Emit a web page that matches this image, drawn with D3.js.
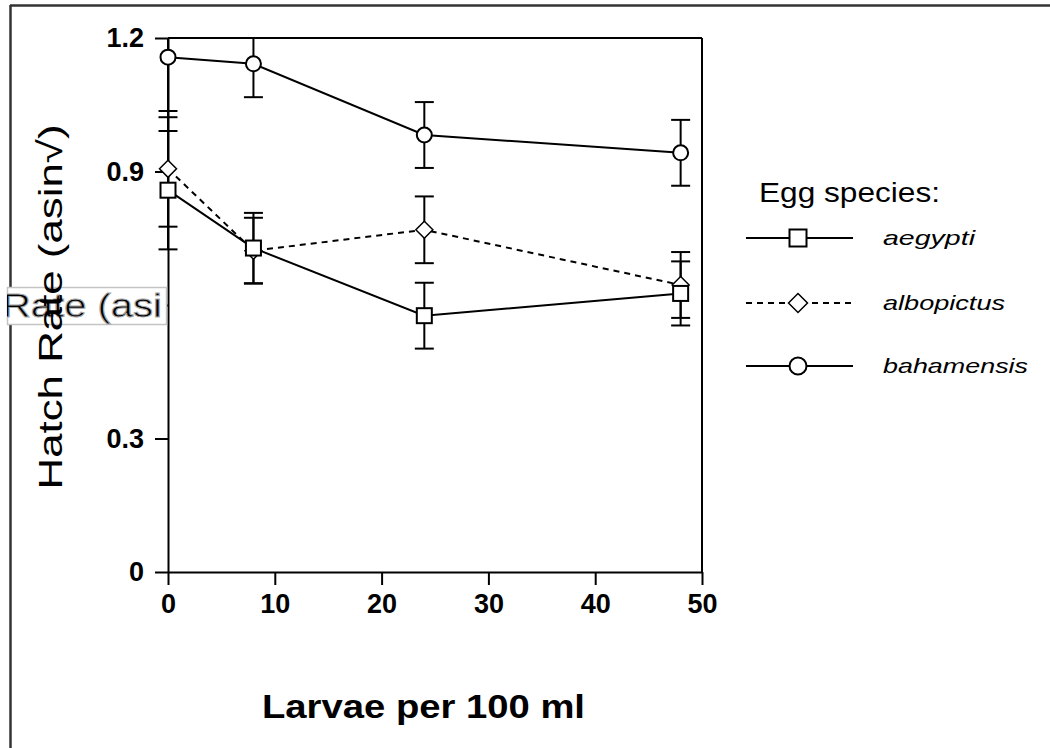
<!DOCTYPE html>
<html>
<head>
<meta charset="utf-8">
<script src="https://cdn.jsdelivr.net/npm/d3@7"></script>
<style>
  html, body { margin: 0; padding: 0; background: #fff; }
  svg { display: block; }
  text { font-family: "Liberation Sans", Arial, sans-serif; fill: #000; }
</style>
</head>
<body>
<svg id="chart" width="1050" height="748"></svg>
<script>
// ---- data ----
const larvae = [0, 8, 24, 48];
const speciesNames = ["aegypti", "albopictus", "bahamensis"];
const aegyptiMean = [0.858, 0.728, 0.576, 0.626];
const aegyptiErr  = [0.133, 0.079, 0.074, 0.072];
const albopictusMean = [0.906, 0.722, 0.769, 0.645];
const albopictusErr  = [0.130, 0.074, 0.075, 0.074];
const bahamensisMean = [1.157, 1.142, 0.982, 0.942];
const bahamensisErr  = [0.135, 0.075, 0.074, 0.074];
const xTicks = [0, 10, 20, 30, 40, 50];
const yTicks = [0, 0.3, 0.6, 0.9, 1.2];
const yTickLabels = ["0", "0.3", "0.6", "0.9", "1.2"];

const series = [
  {name: "aegypti", mean: aegyptiMean, err: aegyptiErr, shape: "square", dash: null},
  {name: "albopictus", mean: albopictusMean, err: albopictusErr, shape: "diamond", dash: "6,5"},
  {name: "bahamensis", mean: bahamensisMean, err: bahamensisErr, shape: "circle", dash: null}
];

const svg = d3.select("#chart");
const x = d3.scaleLinear().domain([0, 50]).range([168, 702]);
const y = d3.scaleLinear().domain([0, 1.2]).range([572, 38]);

// outer frame (partial)
svg.append("line").attr("x1", 10).attr("x2", 1050).attr("y1", 5.5).attr("y2", 5.5)
  .attr("stroke", "#333").attr("stroke-width", 2.5);
svg.append("line").attr("x1", 10.5).attr("x2", 10.5).attr("y1", 5).attr("y2", 748)
  .attr("stroke", "#333").attr("stroke-width", 2.5);

// clip for error bars
svg.append("defs").append("clipPath").attr("id", "plotclip")
  .append("rect").attr("x", 0).attr("y", y(1.2)).attr("width", 1050).attr("height", y(0) - y(1.2));

// axes
const yAxis = d3.axisLeft(y).tickValues(yTicks).tickSize(13).tickSizeOuter(0).tickPadding(11)
  .tickFormat((d, i) => yTickLabels[i]);
const xAxis = d3.axisBottom(x).tickValues(xTicks).tickSize(13).tickSizeOuter(0).tickPadding(9)
  .tickFormat(d3.format("d"));

const gy = svg.append("g").attr("transform", `translate(${x(0)},0)`).call(yAxis);
const gx = svg.append("g").attr("transform", `translate(0,${y(0)})`).call(xAxis);
[gx, gy].forEach(g => {
  g.selectAll("path, line").attr("stroke", "#000").attr("stroke-width", 2);
  g.selectAll("text").style("font-family", "'Liberation Sans', Arial, sans-serif")
    .style("font-size", "27px").style("font-weight", "bold").attr("fill", "#000");
});
// top & right frame of plot
svg.append("line").attr("x1", x(0)).attr("x2", x(50)).attr("y1", y(1.2)).attr("y2", y(1.2))
  .attr("stroke", "#000").attr("stroke-width", 2);
svg.append("line").attr("x1", x(50)).attr("x2", x(50)).attr("y1", y(1.2)).attr("y2", y(0))
  .attr("stroke", "#000").attr("stroke-width", 2);

// error bars
const capHalf = 9.5;
series.forEach(s => {
  const g = svg.append("g").attr("clip-path", "url(#plotclip)");
  larvae.forEach((lv, i) => {
    const cx = x(lv), hi = y(s.mean[i] + s.err[i]), lo = y(s.mean[i] - s.err[i]);
    g.append("line").attr("x1", cx).attr("x2", cx).attr("y1", hi).attr("y2", lo)
      .attr("stroke", "#000").attr("stroke-width", 2);
    [hi, lo].forEach(cy => g.append("line").attr("x1", cx - capHalf).attr("x2", cx + capHalf)
      .attr("y1", cy).attr("y2", cy).attr("stroke", "#000").attr("stroke-width", 2));
  });
});

// lines
const lineGen = d3.line().x(d => x(d[0])).y(d => y(d[1]));
series.forEach(s => {
  svg.append("path").datum(larvae.map((lv, i) => [lv, s.mean[i]]))
    .attr("d", lineGen).attr("fill", "none").attr("stroke", "#000").attr("stroke-width", 2)
    .attr("stroke-dasharray", s.dash);
});

// markers
function drawMarker(g, shape, cx, cy, size) {
  if (shape === "square") {
    g.append("rect").attr("x", cx - size / 2).attr("y", cy - size / 2)
      .attr("width", size).attr("height", size)
      .attr("fill", "#fff").attr("stroke", "#000").attr("stroke-width", 2);
  } else if (shape === "circle") {
    g.append("circle").attr("cx", cx).attr("cy", cy).attr("r", size / 2)
      .attr("fill", "#fff").attr("stroke", "#000").attr("stroke-width", 2);
  } else {
    const h = size / 2 + 1;
    g.append("path").attr("d", `M${cx},${cy - h}L${cx + h},${cy}L${cx},${cy + h}L${cx - h},${cy}Z`)
      .attr("fill", "#fff").attr("stroke", "#000").attr("stroke-width", 1.5);
  }
}
const mg = svg.append("g");
[series[1], series[0], series[2]].forEach(s => {
  larvae.forEach((lv, i) => drawMarker(mg, s.shape, x(lv), y(s.mean[i]), 15));
});

// odd overlay box "Rate (asi"
svg.append("defs").append("clipPath").attr("id", "boxclip")
  .append("rect").attr("x", 7).attr("y", 287).attr("width", 160).attr("height", 38);
svg.append("rect").attr("x", 7.5).attr("y", 287.5).attr("width", 159).attr("height", 37)
  .attr("fill", "#fff").attr("stroke", "#c4c4c4").attr("stroke-width", 1.5);
svg.append("text").attr("clip-path", "url(#boxclip)")
  .attr("x", 2).attr("y", 317).attr("textLength", 160).attr("lengthAdjust", "spacingAndGlyphs")
  .style("font-size", "33px").attr("fill", "#f4f4f4").attr("stroke", "#aaa").attr("stroke-width", 1)
  .text("Rate (asi");

// y title
svg.append("text").attr("transform", "translate(62,307) rotate(-90)")
  .attr("text-anchor", "middle").attr("textLength", 365).attr("lengthAdjust", "spacingAndGlyphs")
  .style("font-size", "34px").text("Hatch Rate (asin\u221A)");

// x title
svg.append("text").attr("x", 262).attr("y", 718)
  .attr("textLength", 323).attr("lengthAdjust", "spacingAndGlyphs")
  .style("font-size", "34px").style("font-weight", "bold").text("Larvae per 100 ml");

// legend
svg.append("text").attr("x", 759).attr("y", 202).attr("textLength", 181)
  .attr("lengthAdjust", "spacingAndGlyphs").style("font-size", "27px").text("Egg species:");
const legRows = [238, 303, 366];
const legLens = [92, 122, 145];
series.forEach((s, i) => {
  const ly = legRows[i];
  svg.append("line").attr("x1", 746).attr("x2", 853).attr("y1", ly).attr("y2", ly)
    .attr("stroke", "#000").attr("stroke-width", 2).attr("stroke-dasharray", s.dash);
  drawMarker(svg, s.shape, 798, ly, 17);
  svg.append("text").attr("x", 883).attr("y", ly + 7).attr("textLength", legLens[i])
    .attr("lengthAdjust", "spacingAndGlyphs").style("font-size", "21px")
    .style("font-style", "italic").text(speciesNames[i]);
});
</script>
</body>
</html>
